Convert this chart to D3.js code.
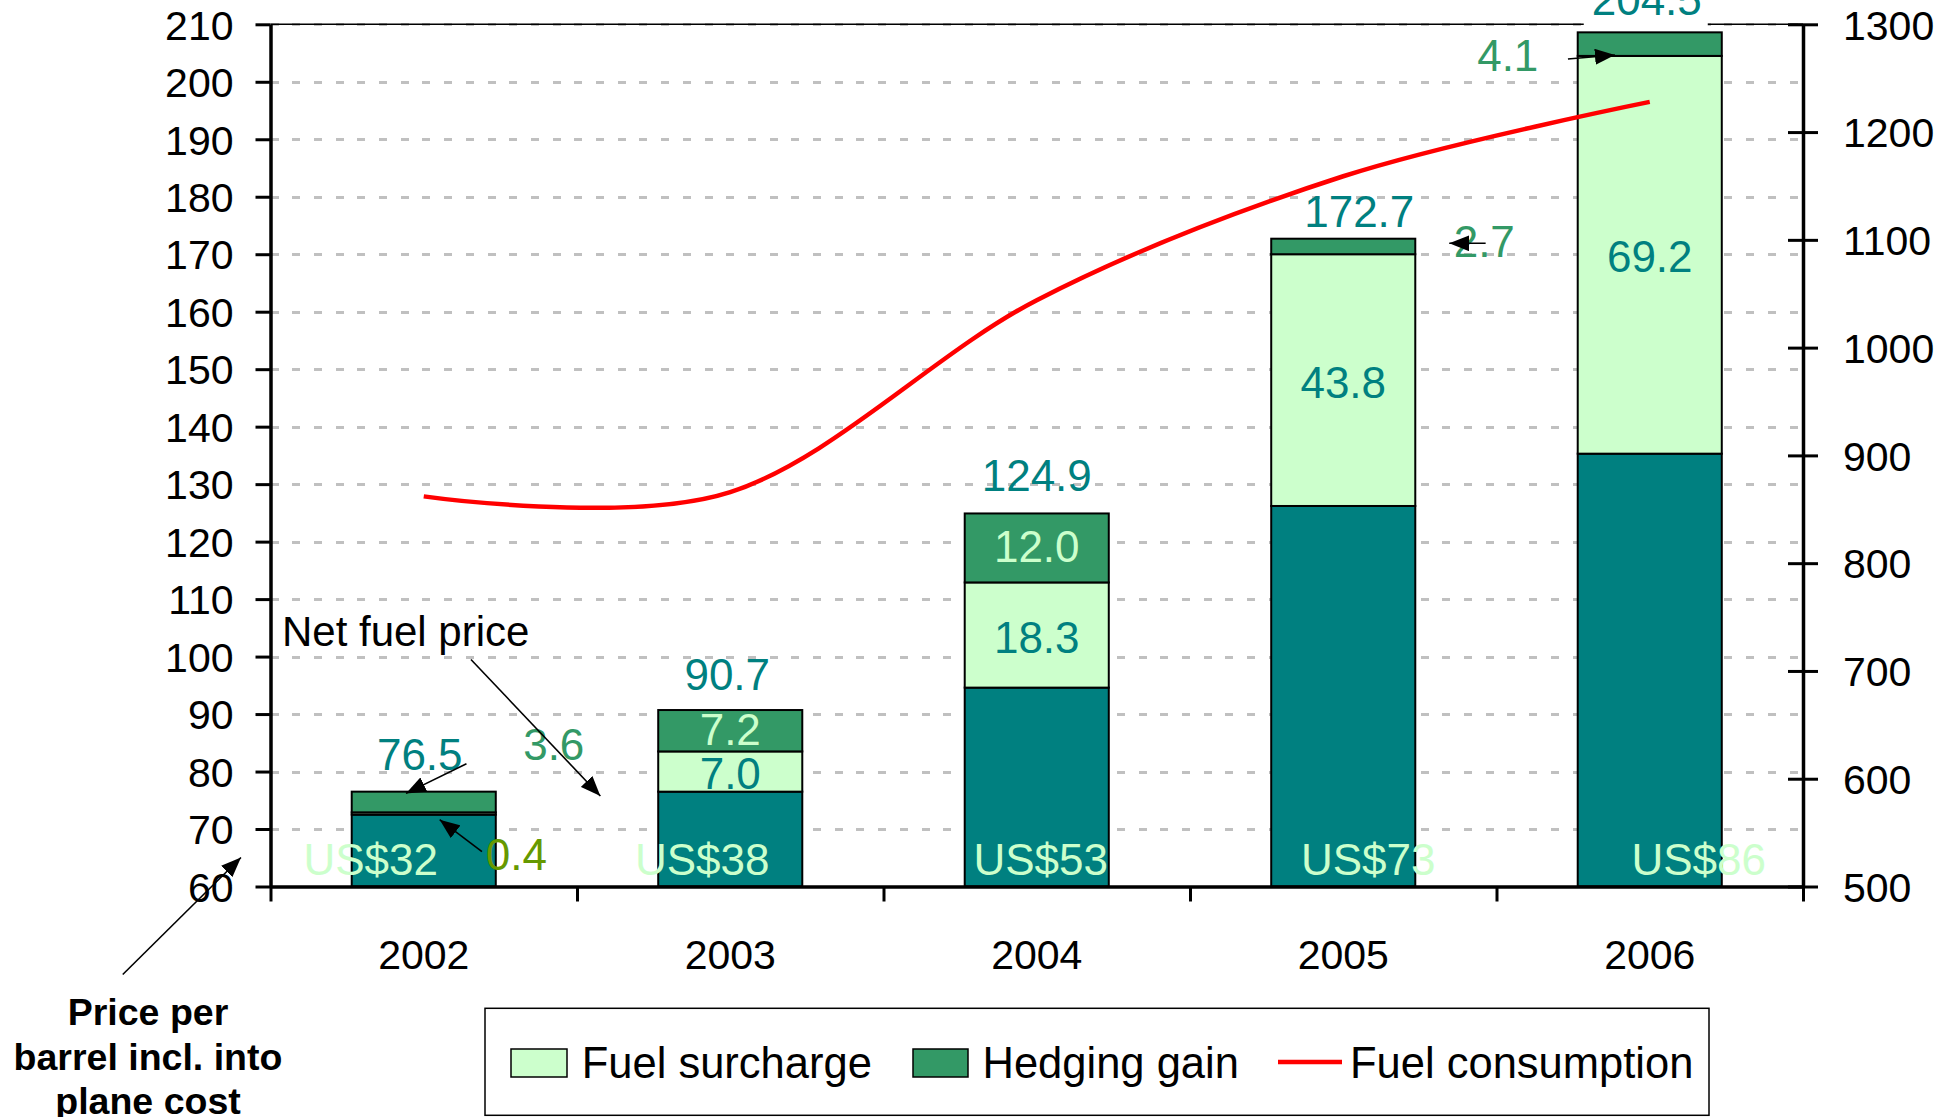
<!DOCTYPE html>
<html>
<head>
<meta charset="utf-8">
<script src="https://cdn.jsdelivr.net/npm/d3@7"></script>
<style>
  body { margin: 0; background: #fff; }
  svg { display: block; font-family: "Liberation Sans", Arial, sans-serif; }
</style>
</head>
<body>
<script>
// data
const years = ["2002", "2003", "2004", "2005", "2006"];
const netFuelPrice = [72.5, 76.5, 94.6, 126.2, 135.3];
const fuelSurcharge = [0.4, 7.0, 18.3, 43.8, 69.2];
const hedgingGain = [3.6, 7.2, 12.0, 2.7, 4.1];
const totalLabels = ["76.5", "90.7", "124.9", "172.7", "204.5"];
const barrelPrice = ["US$32", "US$38", "US$53", "US$73", "US$86"];
const fuelConsumption = [862, 866, 1044, 1159, 1228];
const leftTicks = [60, 70, 80, 90, 100, 110, 120, 130, 140, 150, 160, 170, 180, 190, 200, 210];
const rightTicks = [500, 600, 700, 800, 900, 1000, 1100, 1200, 1300];
const legendNames = ["Fuel surcharge", "Hedging gain", "Fuel consumption"];

const teal = "#008080", light = "#CCFFCC", hedge = "#339966";

const svgWidth = 1955, svgHeight = 1117;
const plotLeft = 270.5, plotRight = 1803, plotTop = 24.3, plotBottom = 886.5;

const svg = d3.select("body").append("svg")
              .attr("width", svgWidth)
              .attr("height", svgHeight);

svg.append("defs").append("marker")
   .attr("id", "head")
   .attr("markerUnits", "userSpaceOnUse")
   .attr("viewBox", "0 0 20 16")
   .attr("markerWidth", 20)
   .attr("markerHeight", 16)
   .attr("refX", 20)
   .attr("refY", 8)
   .attr("orient", "auto")
   .append("path")
   .attr("d", "M0,0L20,8L0,16Z")
   .attr("fill", "#000");

const x = d3.scaleBand()
            .domain(years)
            .range([plotLeft, plotRight])
            .paddingInner(0.53)
            .paddingOuter(0.265);
const xEdge = d3.scaleLinear().domain([0, years.length]).range([plotLeft, plotRight]);
const cx = i => x(years[i]) + x.bandwidth() / 2;

const y = d3.scaleLinear().domain([60, 210]).range([plotBottom, plotTop]);
const y2 = d3.scaleLinear().domain([500, 1300]).range([plotBottom, plotTop]);

// grid
svg.append("g")
   .attr("shape-rendering", "crispEdges")
   .selectAll("line")
   .data(leftTicks.slice(1))
   .join("line")
   .attr("x1", plotLeft).attr("x2", plotRight)
   .attr("y1", d => Math.round(y(d))).attr("y2", d => Math.round(y(d)))
   .attr("stroke", "#C0C0C0")
   .attr("stroke-width", 3)
   .attr("stroke-dasharray", "8,13.7");

svg.append("line")
   .attr("x1", plotLeft).attr("x2", plotRight)
   .attr("y1", plotTop).attr("y2", plotTop)
   .attr("stroke", "#000")
   .attr("stroke-width", 1.5);

// stacked bars
const stacks = years.map((yr, i) => {
  const a = netFuelPrice[i], b = a + fuelSurcharge[i], c = b + hedgingGain[i];
  return [
    { i, y0: 60, y1: a, fill: teal, v: netFuelPrice[i], key: "base" },
    { i, y0: a, y1: b, fill: light, v: fuelSurcharge[i], key: "sur", color: teal, dy: "0.40em" },
    { i, y0: b, y1: c, fill: hedge, v: hedgingGain[i], key: "hedge", color: light, dy: "0.32em" }
  ];
});

svg.append("g")
   .selectAll("rect")
   .data(stacks.flat())
   .join("rect")
   .attr("x", d => x(years[d.i]))
   .attr("width", x.bandwidth())
   .attr("y", d => y(d.y1))
   .attr("height", d => y(d.y0) - y(d.y1))
   .attr("fill", d => d.fill)
   .attr("stroke", "#000")
   .attr("stroke-width", 2);

// segment labels inside bars (only where the segment is tall enough)
svg.append("g")
   .selectAll("text")
   .data(stacks.flat().filter(d => d.key !== "base" && y(d.y0) - y(d.y1) > 30))
   .join("text")
   .attr("x", d => cx(d.i))
   .attr("y", d => y((d.y0 + d.y1) / 2))
   .attr("dy", d => d.dy)
   .attr("text-anchor", "middle")
   .attr("font-size", 44)
   .attr("fill", d => d.color)
   .text(d => d3.format(".1f")(d.v));

// fuel consumption line
const line = d3.line()
               .x((d, i) => cx(i))
               .y(d => y2(d))
               .curve(d3.curveCardinal.tension(0));

svg.append("path")
   .datum(fuelConsumption)
   .attr("d", line)
   .attr("fill", "none")
   .attr("stroke", "#FF0000")
   .attr("stroke-width", 4.5);

// axes
const axisLeft = svg.append("g")
                    .attr("transform", `translate(${plotLeft},0)`)
                    .call(d3.axisLeft(y).tickValues(leftTicks).tickSize(15).tickSizeOuter(0).tickPadding(22));
const axisRight = svg.append("g")
                     .attr("transform", `translate(${plotRight},0)`)
                     .call(d3.axisRight(y2).tickValues(rightTicks).tickFormat(d3.format("d"))
                              .tickSize(15).tickSizeOuter(0).tickPadding(25));
axisRight.selectAll(".tick line").attr("x1", -15);
const axisBottom = svg.append("g")
                      .attr("transform", `translate(0,${plotBottom})`)
                      .call(d3.axisBottom(xEdge).tickValues(d3.range(years.length + 1)).tickFormat("").tickSize(15).tickSizeOuter(0));

[axisLeft, axisRight, axisBottom].forEach(g => {
  g.select(".domain").attr("stroke-width", 3.5);
  g.selectAll(".tick line").attr("stroke-width", 3);
  g.selectAll("text").attr("font-size", 41).attr("font-family", "Liberation Sans, Arial, sans-serif").attr("fill", "#000");
});
axisLeft.selectAll("text").attr("dy", "0.36em");
axisRight.selectAll("text").attr("dy", "0.36em");

svg.append("g")
   .selectAll("text")
   .data(years)
   .join("text")
   .attr("x", d => x(d) + x.bandwidth() / 2)
   .attr("y", 969)
   .attr("text-anchor", "middle")
   .attr("font-size", 41)
   .text(d => d);

// price per barrel labels at bar foot (nudged like the original)
const priceShift = [-53, -28, 4, 25, 49];
svg.append("g")
   .selectAll("text")
   .data(barrelPrice)
   .join("text")
   .attr("x", (d, i) => cx(i) + priceShift[i])
   .attr("y", y(60) - 12)
   .attr("text-anchor", "middle")
   .attr("font-size", 44)
   .attr("fill", light)
   .text(d => d);

// totals above bars
const totalNudge = [[-4, -22], [-3, -20.5], [0, -22.5], [16, -12], [-3, -17]];
const totals = svg.append("g");
totalLabels.forEach((t, i) => {
  const barTop = netFuelPrice[i] + fuelSurcharge[i] + hedgingGain[i];
  const tx = cx(i) + totalNudge[i][0];
  const ty = y(barTop) + totalNudge[i][1];
  if (i === 4) {
    totals.append("rect")
          .attr("x", tx - 63).attr("width", 124)
          .attr("y", ty - 40).attr("height", 52)
          .attr("fill", "#fff");
  }
  totals.append("text")
        .attr("x", tx)
        .attr("y", ty)
        .attr("text-anchor", "middle")
        .attr("font-size", 44)
        .attr("fill", teal)
        .text(t);
});

// annotations
const notes = [
  { text: "Net fuel price", i: 0, dx: -141.8, v: 101.85, anchor: "start", color: "#000", size: 42 },
  { text: d3.format(".1f")(hedgingGain[0]), i: 0, dx: 130, v: 82.0, anchor: "middle", color: hedge, size: 44 },
  { text: d3.format(".1f")(fuelSurcharge[0]), i: 0, dx: 62, v: 62.9, anchor: "start", color: "#669900", size: 44 },
  { text: d3.format(".1f")(hedgingGain[3]), i: 3, dx: 141, v: 169.6, anchor: "middle", color: hedge, size: 44 },
  { text: d3.format(".1f")(hedgingGain[4]), i: 4, dx: -142, v: 201.9, anchor: "middle", color: hedge, size: 44 }
];
svg.append("g")
   .selectAll("text")
   .data(notes)
   .join("text")
   .attr("x", d => cx(d.i) + d.dx)
   .attr("y", d => y(d.v))
   .attr("text-anchor", d => d.anchor)
   .attr("font-size", d => d.size)
   .attr("fill", d => d.color)
   .text(d => d.text);

const arrows = [
  { i: 0, dx1: 47.2, v1: 99.5, dx2: 176.6, v2: 75.75 },
  { i: 0, dx1: 42.7, v1: 81.35, dx2: -17.8, v2: 76.2 },
  { i: 0, dx1: 58.2, v1: 66.07, dx2: 15.9, v2: 71.62 },
  { i: 0, dx1: -301, v1: 44.7, dx2: -182.8, v2: 65.05 },
  { i: 3, dx1: 142.4, v1: 171.9, dx2: 106, v2: 171.9 },
  { i: 4, dx1: -81.8, v1: 203.96, dx2: -34.8, v2: 204.66 }
];
svg.append("g")
   .selectAll("line")
   .data(arrows)
   .join("line")
   .attr("x1", d => cx(d.i) + d.dx1)
   .attr("y1", d => y(d.v1))
   .attr("x2", d => cx(d.i) + d.dx2)
   .attr("y2", d => y(d.v2))
   .attr("stroke", "#000")
   .attr("stroke-width", 1.6)
   .attr("marker-end", "url(#head)");

// side note under the axis
const side = svg.append("text")
                .attr("text-anchor", "middle")
                .attr("font-size", 37.5)
                .attr("font-weight", "bold");
["Price per", "barrel incl. into", "plane cost"].forEach((t, k) => {
  side.append("tspan").attr("x", 148).attr("y", 1025 + k * 44.5).text(t);
});

// legend
const legend = svg.append("g");
legend.append("rect")
      .attr("x", 485).attr("y", 1008.3)
      .attr("width", 1224).attr("height", 107)
      .attr("fill", "#fff")
      .attr("stroke", "#000")
      .attr("stroke-width", 1.5);
legend.append("rect").attr("x", 511).attr("y", 1049).attr("width", 56).attr("height", 28)
      .attr("fill", light).attr("stroke", "#000").attr("stroke-width", 1.5);
legend.append("rect").attr("x", 913).attr("y", 1049).attr("width", 55).attr("height", 28)
      .attr("fill", hedge).attr("stroke", "#000").attr("stroke-width", 1.5);
legend.append("line").attr("x1", 1278).attr("x2", 1342).attr("y1", 1062).attr("y2", 1062)
      .attr("stroke", "#FF0000").attr("stroke-width", 4.5);
[[581.7, legendNames[0]], [982.5, legendNames[1]], [1350, legendNames[2]]].forEach(([lx, t]) => {
  legend.append("text").attr("x", lx).attr("y", 1078.3)
        .attr("font-size", 43.5).text(t);
});
</script>
</body>
</html>
